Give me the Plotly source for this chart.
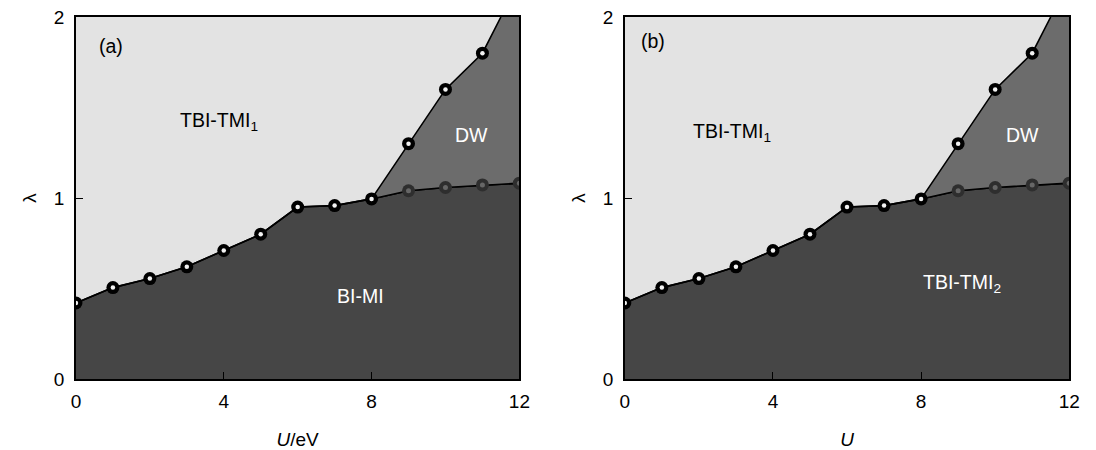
import plotly.graph_objects as go

# Data
U_lower = [0, 1, 2, 3, 4, 5, 6, 7, 8, 9, 10, 11, 12]
lam_lower = [0.42, 0.505, 0.555, 0.62, 0.71, 0.80, 0.95, 0.958, 0.995, 1.04, 1.058, 1.072, 1.082]
U_dw = [8, 9, 10, 11, 11.5]
lam_dw = [0.995, 1.30, 1.60, 1.80, 2.0]
x_ticks = [0, 4, 8, 12]
y_ticks = [0, 1, 2]
panels = [
    dict(tag="(a)", xtitle="<i>U</i>/eV", upper="TBI-TMI<sub>1</sub>", lower="BI-MI",
         upper_pos=(3.87, 1.42), lower_pos=(7.7, 0.46), dw_pos=(10.7, 1.35), tag_pos=(0.95, 1.84)),
    dict(tag="(b)", xtitle="<i>U</i>", upper="TBI-TMI<sub>1</sub>", lower="TBI-TMI<sub>2</sub>",
         upper_pos=(2.9, 1.36), lower_pos=(9.1, 0.53), dw_pos=(10.75, 1.35), tag_pos=(0.75, 1.87)),
]

LIGHT = "#e3e3e3"
DW = "#6c6c6c"
DARK = "#464646"
FONT = "Liberation Sans, Arial, sans-serif"

fig = go.Figure()
domains = [(72 / 1096, 522 / 1096), (629 / 1096, 1080 / 1096)]

for i, p in enumerate(panels):
    xa = "x" if i == 0 else "x2"
    ya = "y" if i == 0 else "y2"
    # dark region
    fig.add_trace(go.Scatter(x=U_lower, y=lam_lower, mode="lines", fill="tozeroy",
                             fillcolor=DARK, line=dict(color="black", width=1.6),
                             xaxis=xa, yaxis=ya, showlegend=False, hoverinfo="skip"))
    # DW region polygon from data
    i8 = U_lower.index(8)
    poly_x = U_dw + [U_lower[-1]] + U_lower[i8:][::-1]
    poly_y = lam_dw + [lam_dw[-1]] + lam_lower[i8:][::-1]
    fig.add_trace(go.Scatter(x=poly_x, y=poly_y, mode="lines", fill="toself",
                             fillcolor=DW, line=dict(color="rgba(0,0,0,0)", width=0),
                             xaxis=xa, yaxis=ya, showlegend=False, hoverinfo="skip"))
    # lines
    fig.add_trace(go.Scatter(x=U_lower, y=lam_lower, mode="lines",
                             line=dict(color="black", width=1.6),
                             xaxis=xa, yaxis=ya, showlegend=False, hoverinfo="skip"))
    fig.add_trace(go.Scatter(x=U_dw, y=lam_dw, mode="lines",
                             line=dict(color="black", width=1.6),
                             xaxis=xa, yaxis=ya, showlegend=False, hoverinfo="skip"))
    # black spheres: lower boundary up to 8, DW upper (except the end at top)
    bx = U_lower[:i8 + 1] + U_dw[1:-1]
    by = lam_lower[:i8 + 1] + lam_dw[1:-1]
    fig.add_trace(go.Scatter(x=bx, y=by, mode="markers",
                             marker=dict(size=13, color="black", line=dict(color="black", width=0)),
                             xaxis=xa, yaxis=ya, showlegend=False, hoverinfo="skip"))
    fig.add_trace(go.Scatter(x=bx, y=by, mode="markers",
                             marker=dict(size=4.5, color="#f2f2f2", line=dict(width=0)),
                             xaxis=xa, yaxis=ya, showlegend=False, hoverinfo="skip"))
    # gray spheres: lower boundary beyond 8
    gx = U_lower[i8 + 1:]
    gy = lam_lower[i8 + 1:]
    fig.add_trace(go.Scatter(x=gx, y=gy, mode="markers",
                             marker=dict(size=13, color="#2e2e2e", line=dict(width=0)),
                             xaxis=xa, yaxis=ya, showlegend=False, hoverinfo="skip"))
    fig.add_trace(go.Scatter(x=gx, y=gy, mode="markers",
                             marker=dict(size=5, color="#666666", line=dict(width=0)),
                             xaxis=xa, yaxis=ya, showlegend=False, hoverinfo="skip"))
    # annotations
    for txt, pos, col in [(p["tag"], p["tag_pos"], "black"), (p["upper"], p["upper_pos"], "black"),
                          (p["lower"], p["lower_pos"], "white"), ("DW", p["dw_pos"], "white")]:
        fig.add_annotation(x=pos[0], y=pos[1], xref=xa, yref=ya, text=txt, showarrow=False,
                           font=dict(family=FONT, size=19.5, color=col))

axis_common = dict(showgrid=False, zeroline=False, showline=True, linecolor="black", linewidth=1.5,
                   mirror=True, ticks="inside", ticklen=7, tickcolor="black", tickwidth=1.3,
                   tickfont=dict(family=FONT, size=19, color="black"))

fig.update_layout(
    width=1096, height=450,
    margin=dict(l=0, r=0, t=17, b=71),
    paper_bgcolor="white", plot_bgcolor=LIGHT,
    xaxis=dict(domain=list(domains[0]), range=[0, 12], tickvals=x_ticks, anchor="y",
               ticklabelstandoff=4,
               title=dict(text=panels[0]["xtitle"], font=dict(family=FONT, size=19, color="black"), standoff=22),
               **axis_common),
    yaxis=dict(domain=[0, 1], range=[0, 2], tickvals=y_ticks, anchor="x",
               ticklabelstandoff=6,
               title=dict(text="λ", font=dict(family=FONT, size=19, color="black"), standoff=12),
               **axis_common),
    xaxis2=dict(domain=list(domains[1]), range=[0, 12], tickvals=x_ticks, anchor="y2",
                ticklabelstandoff=4,
                title=dict(text=panels[1]["xtitle"], font=dict(family=FONT, size=19, color="black"), standoff=22),
                **axis_common),
    yaxis2=dict(domain=[0, 1], range=[0, 2], tickvals=y_ticks, anchor="x2",
                ticklabelstandoff=6,
                title=dict(text="λ", font=dict(family=FONT, size=19, color="black"), standoff=12),
                **axis_common),
)

fig.write_html("out.html")
